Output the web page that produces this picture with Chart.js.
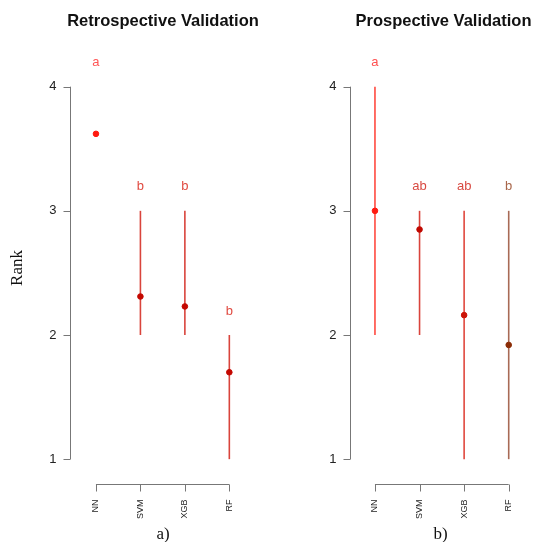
<!DOCTYPE html>
<html>
<head>
<meta charset="utf-8">
<style>
  body { margin: 0; background: #fff; }
  #wrap { position: relative; width: 536px; height: 542px; }
  canvas { position: absolute; top: 0; }
  #c1 { left: 0; }
  #c2 { left: 268px; }
</style>
</head>
<body>
<div id="wrap">
  <canvas id="c1" width="268" height="542"></canvas>
  <canvas id="c2" width="268" height="542"></canvas>
</div>
<script src="https://cdn.jsdelivr.net/npm/chart.js"></script>
<script>
// data
const models = ['NN', 'SVM', 'XGB', 'RF'];
const yTicks = [1, 2, 3, 4];

const retroMean = [3.62, 2.31, 2.23, 1.70];
const retroLow = [4, 2, 2, 1];
const retroHigh = [4, 3, 3, 2];
const retroLetters = ['a', 'b', 'b', 'b'];

const prosMean = [3.00, 2.85, 2.16, 1.92];
const prosLow = [2, 2, 1, 1];
const prosHigh = [4, 3, 3, 3];
const prosLetters = ['a', 'ab', 'ab', 'b'];

// colours per model (line, dot, letter)
const retroLine = ['#ff9a9a', '#d9443c', '#d9443c', '#d9443c'];
const retroDot = ['#ff1a10', '#c40800', '#c40800', '#c40800'];
const retroLetterCol = ['#ff5555', '#e04a40', '#e04a40', '#e04a40'];
const prosLine = ['#ff4a40', '#d9443c', '#e0483e', '#a86a55'];
const prosDot = ['#ff1a10', '#c00800', '#cc1408', '#8b2c05'];
const prosLetterCol = ['#ff5050', '#d84a42', '#d84a42', '#a8664a'];

function makeChart(id, title, tag, mean, low, high, letters, lineCol, dotCol, letterCol, xMin, xMax, padLeft, padRight, titleShift, showRank) {
  const datasets = [];
  models.forEach(function (m, i) {
    datasets.push({
      type: 'line',
      data: [{x: i + 1, y: low[i]}, {x: i + 1, y: high[i]}],
      borderColor: lineCol[i],
      borderWidth: 1.6,
      pointRadius: 0,
      order: 2
    });
  });
  datasets.push({
    type: 'scatter',
    data: mean.map(function (v, i) { return {x: i + 1, y: v}; }),
    pointBackgroundColor: dotCol,
    pointBorderColor: dotCol,
    pointRadius: 2.8,
    order: 1
  });

  const axesPlugin = {
    id: 'rAxes',
    afterDraw: function (chart) {
      const c = chart.ctx, xs = chart.scales.x, ys = chart.scales.y, a = chart.chartArea;
      c.save();
      c.strokeStyle = '#777';
      c.lineWidth = 1;
      // y axis
      const yx = Math.round(a.left) + 0.5;
      c.beginPath();
      c.moveTo(yx, ys.getPixelForValue(yTicks[0]));
      c.lineTo(yx, ys.getPixelForValue(yTicks[yTicks.length - 1]));
      yTicks.forEach(function (t) {
        const py = Math.round(ys.getPixelForValue(t)) + 0.5;
        c.moveTo(yx, py); c.lineTo(yx - 7, py);
      });
      c.stroke();
      c.fillStyle = '#222';
      c.font = '13px "Liberation Sans", Arial, sans-serif';
      c.textAlign = 'right';
      c.textBaseline = 'middle';
      yTicks.forEach(function (t) {
        c.fillText(String(t), yx - 14, ys.getPixelForValue(t));
      });
      // x axis
      const xy = Math.round(a.bottom) + 0.5;
      c.beginPath();
      c.moveTo(xs.getPixelForValue(1), xy);
      c.lineTo(xs.getPixelForValue(models.length), xy);
      models.forEach(function (m, i) {
        const px = Math.round(xs.getPixelForValue(i + 1)) + 0.5;
        c.moveTo(px, xy); c.lineTo(px, xy + 7);
      });
      c.stroke();
      c.font = '9px "Liberation Sans", Arial, sans-serif';
      c.textAlign = 'right';
      c.textBaseline = 'middle';
      models.forEach(function (m, i) {
        c.save();
        c.translate(xs.getPixelForValue(i + 1), xy + 15);
        c.rotate(-Math.PI / 2);
        c.fillText(m, 0, 0);
        c.restore();
      });
      // letters
      c.textAlign = 'center';
      c.font = '13px "Liberation Sans", Arial, sans-serif';
      models.forEach(function (m, i) {
        c.fillStyle = letterCol[i];
        c.fillText(letters[i], xs.getPixelForValue(i + 1), ys.getPixelForValue(high[i]) - 24);
      });
      // title
      const cx = (a.left + a.right) / 2;
      c.fillStyle = '#111';
      c.font = 'bold 16.5px "Liberation Sans", Arial, sans-serif';
      c.fillText(title, cx + titleShift, 21);
      // panel tag
      c.font = '17px "Liberation Serif", "DejaVu Serif", serif';
      c.fillText(tag, cx, 535);
      if (showRank) {
        c.save();
        c.translate(18, 268);
        c.rotate(-Math.PI / 2);
        c.fillText('Rank', 0, 0);
        c.restore();
      }
      c.restore();
    }
  };

  return new Chart(document.getElementById(id), {
    data: { datasets: datasets },
    options: {
      responsive: false,
      animation: false,
      layout: { padding: { left: padLeft, right: padRight, top: 37, bottom: 58 } },
      scales: {
        x: { type: 'linear', min: xMin, max: xMax, display: false },
        y: { type: 'linear', min: 0.8, max: 4.4, display: false }
      },
      plugins: { legend: { display: false }, tooltip: { enabled: false }, title: { display: false } }
    },
    plugins: [axesPlugin]
  });
}

makeChart('c1', 'Retrospective Validation', 'a)', retroMean, retroLow, retroHigh, retroLetters,
  retroLine, retroDot, retroLetterCol, 0.416, 4.6, 70, 12, 0, true);
makeChart('c2', 'Prospective Validation', 'b)', prosMean, prosLow, prosHigh, prosLetters,
  prosLine, prosDot, prosLetterCol, 0.44, 4.5, 82, 5, 3, false);
</script>
</body>
</html>
